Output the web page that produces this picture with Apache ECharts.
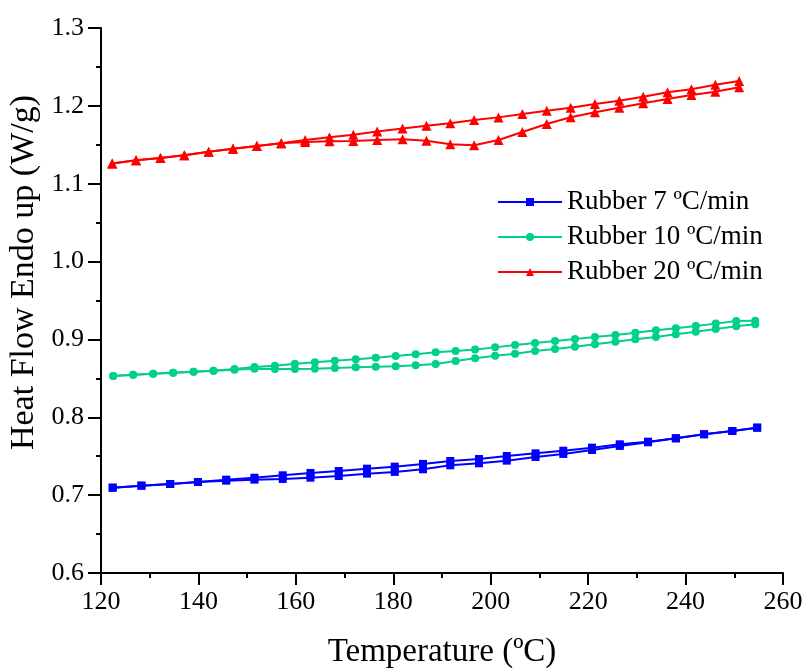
<!DOCTYPE html>
<html>
<head>
<meta charset="utf-8">
<title>Heat Flow vs Temperature</title>
<script src="https://cdn.jsdelivr.net/npm/echarts@6/dist/echarts.min.js"></script>
<style>
  html, body { margin: 0; padding: 0; background: #fff; }
  #chart { width: 802px; height: 668px; }
</style>
</head>
<body>
<div id="chart"></div>
<script>
// DSC heat flow of rubber at three heating rates; each rate has two branches.
const seriesNames = ['Rubber 7 ºC/min', 'Rubber 10 ºC/min', 'Rubber 20 ºC/min'];

// 7 ºC/min
const temp7 = [122.4, 128.3, 134.2, 139.9, 145.7, 151.5, 157.3, 163.0, 168.8, 174.6, 180.3, 186.1,
               191.7, 197.6, 203.3, 209.2, 214.9, 220.8, 226.5, 232.3, 238.0, 243.8, 249.6, 254.7];
const heat7Upper = [0.7096, 0.7122, 0.7143, 0.7169, 0.7199, 0.7224, 0.7255, 0.7285, 0.7310, 0.7340, 0.7366, 0.7401,
                    0.7439, 0.7464, 0.7503, 0.7537, 0.7571, 0.7610, 0.7653, 0.7687, 0.7730, 0.7782, 0.7824, 0.7867];
const heat7Lower = [0.7096, 0.7122, 0.7143, 0.7169, 0.7186, 0.7199, 0.7208, 0.7224, 0.7246, 0.7276, 0.7298, 0.7332,
                    0.7383, 0.7409, 0.7443, 0.7490, 0.7529, 0.7580, 0.7632, 0.7679, 0.7730, 0.7782, 0.7824, 0.7867];

// 10 ºC/min
const temp10 = [122.5, 126.6, 130.7, 134.8, 139.0, 143.1, 147.4, 151.5, 155.7, 159.8, 163.9, 168.0, 172.3, 176.4,
                180.5, 184.6, 188.7, 192.8, 196.8, 200.9, 205.0, 209.1, 213.2, 217.3, 221.4, 225.6, 229.7,
                233.9, 238.0, 242.1, 246.2, 250.4, 254.3];
const heat10Upper = [0.8530, 0.8547, 0.8560, 0.8573, 0.8586, 0.8598, 0.8620, 0.8646, 0.8663, 0.8689, 0.8706, 0.8727,
                     0.8745, 0.8765, 0.8787, 0.8809, 0.8835, 0.8851, 0.8872, 0.8898, 0.8928, 0.8954, 0.8980, 0.9006,
                     0.9031, 0.9057, 0.9087, 0.9117, 0.9143, 0.9173, 0.9203, 0.9237, 0.9240];
const heat10Lower = [0.8530, 0.8547, 0.8560, 0.8573, 0.8586, 0.8598, 0.8610, 0.8624, 0.8620, 0.8620, 0.8624, 0.8633,
                     0.8642, 0.8650, 0.8655, 0.8668, 0.8685, 0.8723, 0.8758, 0.8791, 0.8817, 0.8851, 0.8877, 0.8907,
                     0.8937, 0.8971, 0.9001, 0.9031, 0.9066, 0.9099, 0.9134, 0.9168, 0.9194];

// 20 ºC/min
const temp20 = [122.3, 127.2, 132.2, 137.1, 142.1, 147.1, 152.0, 157.0, 161.9, 166.9, 171.8, 176.7, 181.9, 186.8,
                191.7, 196.6, 201.6, 206.5, 211.5, 216.4, 221.4, 226.4, 231.3, 236.3, 241.2, 246.1, 251.0];
const heat20Upper = [1.1260, 1.1300, 1.1330, 1.1365, 1.1410, 1.1450, 1.1485, 1.1520, 1.1560, 1.1596, 1.1630, 1.1670,
                     1.1710, 1.1745, 1.1776, 1.1818, 1.1852, 1.1895, 1.1938, 1.1976, 1.2024, 1.2066, 1.2118, 1.2174,
                     1.2213, 1.2272, 1.2319];
const heat20Lower = [1.1260, 1.1300, 1.1330, 1.1365, 1.1410, 1.1450, 1.1485, 1.1520, 1.1536, 1.1545, 1.1549, 1.1562,
                     1.1570, 1.1553, 1.1506, 1.1493, 1.1562, 1.1664, 1.1767, 1.1853, 1.1917, 1.1976, 1.2033, 1.2088,
                     1.2139, 1.2182, 1.2238];

const xTicks = [120, 140, 160, 180, 200, 220, 240, 260];
const yTicks = [0.6, 0.7, 0.8, 0.9, 1.0, 1.1, 1.2, 1.3];

const FONT = '"Liberation Serif", "Times New Roman", serif';

function pairs(xs, ys) {
  return xs.map((x, i) => [x, ys[i]]);
}

function branch(name, color, symbol, size, xs, ys) {
  return {
    name: name,
    type: 'line',
    data: pairs(xs, ys),
    symbol: symbol,
    symbolSize: size,
    showSymbol: true,
    lineStyle: { color: color, width: 2 },
    itemStyle: { color: color },
    emphasis: { disabled: true },
    animation: false,
    z: 3
  };
}

const axisLineStyle = { color: '#000', width: 2 };

const chart = echarts.init(document.getElementById('chart'), null, { renderer: 'canvas' });

chart.setOption({
  backgroundColor: '#ffffff',
  animation: false,
  grid: {
    left: 101, right: 19, top: 28, bottom: 95,
    containLabel: false,
    outerBoundsMode: 'none'
  },
  legend: {
    data: seriesNames,
    orient: 'vertical',
    left: 492,
    top: 182,
    itemWidth: 64,
    itemHeight: 10,
    itemGap: 5,
    textStyle: { fontFamily: FONT, fontSize: 27, color: '#000', lineHeight: 30 },
    selectedMode: false
  },
  xAxis: {
    type: 'value',
    min: xTicks[0],
    max: xTicks[xTicks.length - 1],
    interval: 20,
    name: 'Temperature (ºC)',
    nameLocation: 'middle',
    nameGap: 63,
    nameTextStyle: { fontFamily: FONT, fontSize: 33, color: '#000' },
    axisLine: { show: true, onZero: false, lineStyle: axisLineStyle },
    axisTick: { show: true, inside: false, length: 12, lineStyle: axisLineStyle },
    minorTick: { show: true, splitNumber: 2, length: 5, lineStyle: axisLineStyle },
    axisLabel: { fontFamily: FONT, fontSize: 26, color: '#000', margin: 16 },
    splitLine: { show: false }
  },
  yAxis: {
    type: 'value',
    min: yTicks[0],
    max: yTicks[yTicks.length - 1],
    interval: 0.1,
    name: 'Heat Flow Endo up (W/g)',
    nameLocation: 'middle',
    nameRotate: 90,
    nameGap: 51,
    nameTextStyle: { fontFamily: FONT, fontSize: 34, color: '#000', padding: [0, 0, 0, 56] },
    axisLine: { show: true, onZero: false, lineStyle: axisLineStyle },
    axisTick: { show: true, inside: false, length: 13, lineStyle: axisLineStyle },
    minorTick: { show: true, splitNumber: 2, length: 5, lineStyle: axisLineStyle },
    axisLabel: {
      fontFamily: FONT, fontSize: 26, color: '#000', margin: 17,
      formatter: v => v.toFixed(1)
    },
    splitLine: { show: false }
  },
  series: [
    branch(seriesNames[0], '#0000FF', 'rect', 8, temp7, heat7Upper),
    branch(seriesNames[0], '#0000FF', 'rect', 8, temp7, heat7Lower),
    branch(seriesNames[1], '#00D08A', 'circle', 8, temp10, heat10Upper),
    branch(seriesNames[1], '#00D08A', 'circle', 8, temp10, heat10Lower),
    branch(seriesNames[2], '#FF0000', 'triangle', 10, temp20, heat20Upper),
    branch(seriesNames[2], '#FF0000', 'triangle', 10, temp20, heat20Lower)
  ]
});
</script>
</body>
</html>
